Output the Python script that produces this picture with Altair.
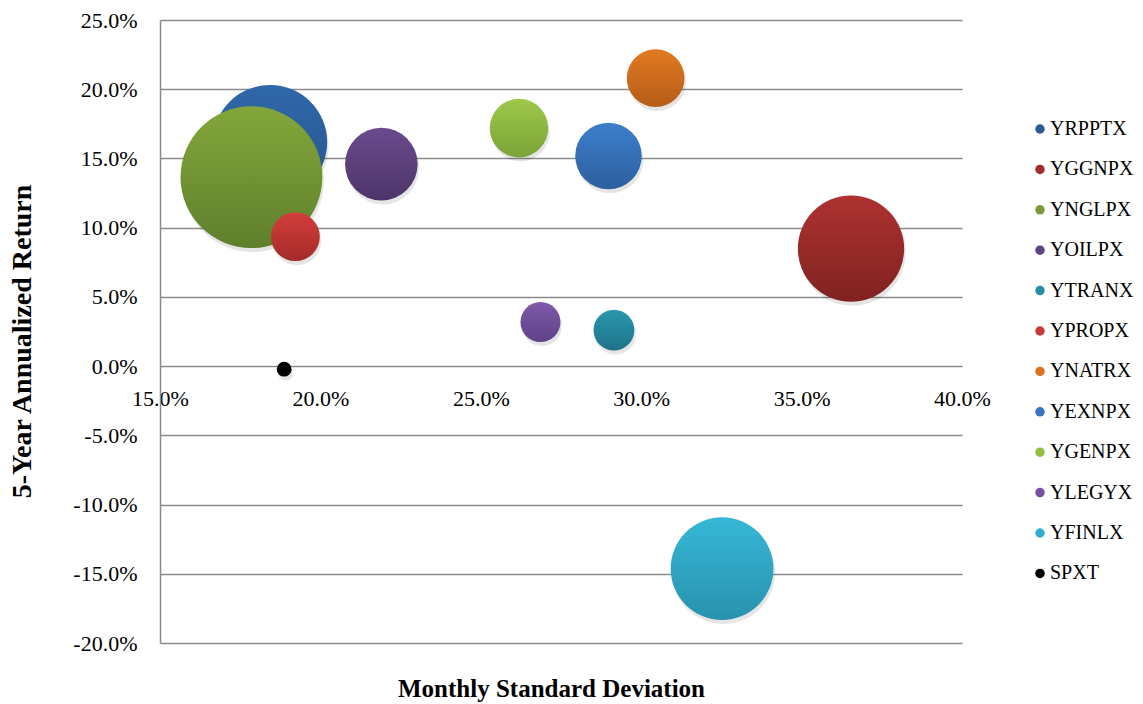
import altair as alt
import pandas as pd

# Fund tickers, in plotting order (later funds are drawn on top)
funds = ["YRPPTX", "YGGNPX", "YNGLPX", "YOILPX", "YTRANX", "YPROPX",
         "YNATRX", "YEXNPX", "YGENPX", "YLEGYX", "YFINLX", "SPXT"]
# Monthly standard deviation (x) and 5-year annualized return (y)
std_dev = [0.1843, 0.3654, 0.1785, 0.2190, 0.2915, 0.1922,
           0.3045, 0.2898, 0.2619, 0.2686, 0.3252, 0.1887]
ann_return = [0.1618, 0.0849, 0.1365, 0.1459, 0.0260, 0.0935,
              0.2080, 0.1517, 0.1719, 0.0318, -0.1463, -0.0022]
# Bubble size values
bubble = [41.6, 36.0, 64.0, 16.8, 5.3, 7.6, 10.6, 14.1, 10.9, 5.1, 33.6, 0.7]

# Legend swatch colours and bubble shading (top / bottom of gradient)
legend_colors = ["#2C5A94", "#A0302E", "#7C9B3A", "#5E4483", "#2A8EA6", "#C93A38",
                 "#D9731F", "#3A74C0", "#94BE48", "#774FA3", "#33B0D0", "#000000"]
top_colors = ["#3068A8", "#AE3230", "#83A73B", "#6A4B8E", "#2A98AE", "#D43E3B",
              "#E27A23", "#3D7FCC", "#9EC84A", "#7F5AAA", "#37B7D7", "#000000"]
bottom_colors = ["#255590", "#7F2220", "#5F7F2C", "#4D3468", "#1E7288", "#A32B29",
                 "#B55C17", "#2C5F9E", "#7BA337", "#5E4288", "#2892AE", "#000000"]

x_ticks = [0.15, 0.20, 0.25, 0.30, 0.35, 0.40]
y_ticks = [-0.20, -0.15, -0.10, -0.05, 0.0, 0.05, 0.10, 0.15, 0.20, 0.25]

df = pd.DataFrame({"fund": funds, "std": std_dev, "ret": ann_return, "bubble": bubble})

FONT = "Liberation Serif"
GRID = "#8a8a8a"
pct_label = "replace(format(datum.value, '.1%'), '\u2212', '-')"

x_enc = alt.X(
    "std:Q",
    scale=alt.Scale(domain=[0.15, 0.40], nice=False, zero=False),
    axis=alt.Axis(
        title="Monthly Standard Deviation", values=x_ticks, labelExpr=pct_label,
        grid=False, domain=False, ticks=False, offset=-277,
        labelPadding=32, labelBaseline="middle", labelFlush=False, labelOverlap=False,
        titleX=391, titleY=322, titleAlign="center", titleBaseline="middle",
    ),
)
y_enc = alt.Y(
    "ret:Q",
    scale=alt.Scale(domain=[-0.20, 0.25], nice=False, zero=False),
    axis=alt.Axis(
        title="5-Year Annualized Return", values=y_ticks, labelExpr=pct_label,
        grid=True, gridColor=GRID, gridWidth=1.5,
        domain=True, domainColor=GRID, domainWidth=1.5, ticks=False,
        labelPadding=23, labelOverlap=False, labelFlush=False,
        titleFontSize=28,
        titleX=-138, titleY=321, titleAngle=270, titleAlign="center", titleBaseline="middle",
    ),
)
size_enc = alt.Size(
    "bubble:Q",
    scale=alt.Scale(type="linear", domain=[0, 100], range=[0, 31416]),
    legend=None,
)

# Tiny points under the bubbles that carry the colour legend
legend_layer = alt.Chart(df).mark_circle(size=1, opacity=1).encode(
    x=x_enc,
    y=y_enc,
    color=alt.Color(
        "fund:N",
        scale=alt.Scale(domain=funds, range=legend_colors),
        legend=alt.Legend(
            title=None, orient="none", legendX=870, legendY=99, padding=0,
            symbolType="circle", symbolSize=90, symbolStrokeWidth=0, symbolOpacity=1,
            labelOffset=0, rowPadding=20.4,
        ),
    ),
)

layers = [legend_layer]
for f, top, bottom in zip(funds, top_colors, bottom_colors):
    base = alt.Chart(df).transform_filter(alt.datum.fund == f)
    shadow = base.mark_circle(color="#000000", opacity=0.10, xOffset=1.5, yOffset=4).encode(
        x=x_enc, y=y_enc, size=size_enc
    )
    shade = alt.Gradient(
        gradient="linear",
        stops=[alt.GradientStop(color=top, offset=0), alt.GradientStop(color=bottom, offset=1)],
        x1=0, x2=0, y1=0, y2=1,
    )
    bubble_mark = base.mark_circle(color=shade, opacity=1).encode(
        x=x_enc, y=y_enc, size=size_enc
    )
    layers += [shadow, bubble_mark]

chart = (
    alt.layer(*layers)
    .properties(
        width=802,
        height=623,
        autosize=alt.AutoSizeParams(type="none"),
        padding={"left": 160, "top": 20, "right": 181, "bottom": 61},
        background="white",
    )
    .configure(font=FONT)
    .configure_view(stroke=None)
    .configure_axis(
        labelFont=FONT, labelFontSize=22, labelColor="#000000",
        titleFont=FONT, titleFontSize=25, titleFontWeight="bold", titleColor="#000000",
    )
    .configure_legend(labelFont=FONT, labelFontSize=20, labelColor="#000000")
)

chart.save("out.html", embed_options={"renderer": "svg", "actions": False})
